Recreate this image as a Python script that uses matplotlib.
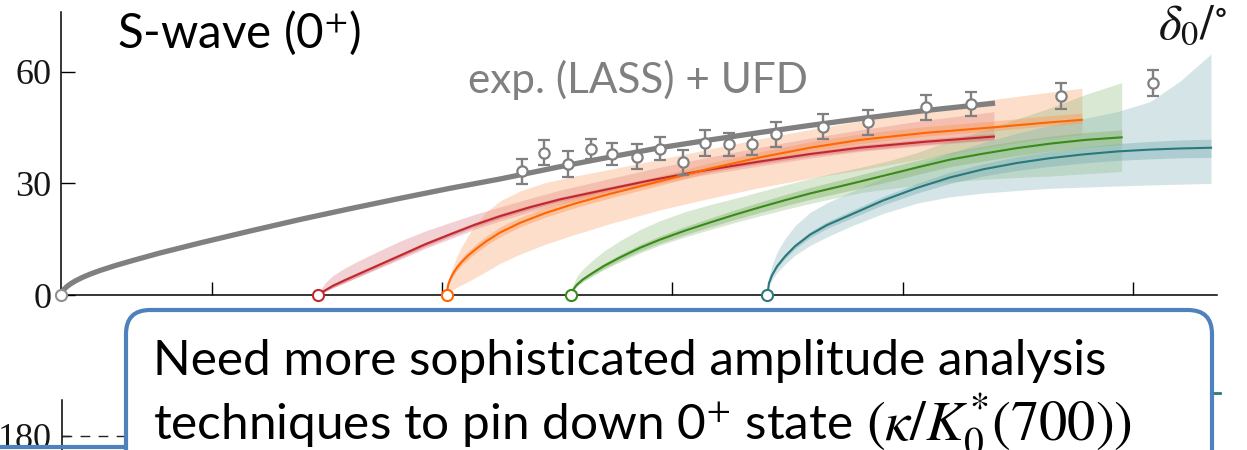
import numpy as np
import matplotlib
matplotlib.use("Agg")
import matplotlib.pyplot as plt
from matplotlib.patches import FancyBboxPatch

plt.rcParams['mathtext.fontset'] = 'stix'

# ---------------- data (E in GeV, phase shift delta_0 in degrees) ----------------
gray_E = [0.6344, 0.6349, 0.6357, 0.6370, 0.6388, 0.6410, 0.6436, 0.6470, 0.6514, 0.6579,
          0.6657, 0.6774, 0.6948, 0.7165, 0.7382, 0.7599, 0.7817, 0.8034, 0.8251, 0.8511,
          0.8729, 0.8946, 0.9163, 0.9380, 0.9597, 0.9814, 1.0097, 1.0401]
gray_deg = [0, 0.8, 1.5, 2.3, 3.1, 3.9, 4.7, 5.6, 6.6, 7.9, 9.3, 11.3, 14.0, 17.2, 20.3,
            23.2, 26.0, 28.7, 31.2, 34.5, 37.1, 39.6, 41.7, 43.7, 45.6, 47.4, 49.6, 51.6]

lass_E = [0.8348, 0.8442, 0.8546, 0.8645, 0.8739, 0.8846, 0.8944, 0.9046, 0.9141,
          0.9245, 0.9347, 0.9451, 0.9652, 0.9848, 1.0100, 1.0295, 1.0687, 1.1088]
lass_deg = [33.3, 38.3, 35.2, 39.3, 38.0, 37.2, 39.3, 35.7, 40.9, 40.5, 40.5, 43.2,
            45.3, 46.4, 50.5, 51.3, 53.6, 57.0]
lass_err = [3.4, 3.3, 3.4, 2.7, 3.0, 3.4, 3.1, 3.4, 3.4, 3.1, 2.9, 3.3, 3.3, 3.4,
            3.4, 3.3, 3.5, 3.4]

red_E = [0.7460, 0.7490, 0.7526, 0.7578, 0.7643, 0.7730, 0.7817, 0.7925, 0.8034, 0.8142,
         0.8251, 0.8381, 0.8511, 0.8685, 0.8902, 0.9119, 0.9380, 0.9597, 0.9814, 1.0097, 1.0396]
red_deg = [0, 1.2, 2.5, 4.0, 5.8, 8.2, 10.6, 13.6, 16.3, 18.9, 21.2, 23.6, 25.7, 28.0,
           30.8, 33.3, 35.9, 37.9, 39.6, 41.2, 42.6]
red_out_hi = [0, 3.2, 5.3, 7.3, 9.4, 12.0, 14.5, 17.2, 19.5, 21.7, 23.7, 26.0, 28.2, 30.7,
              33.8, 36.6, 39.7, 42.2, 44.4, 47.0, 49.3]
red_out_lo = [0, 0.9, 2.0, 3.3, 5.0, 7.3, 9.6, 12.5, 15.1, 17.7, 19.9, 22.3, 24.4, 26.7,
              29.5, 32.1, 34.7, 36.8, 38.6, 40.2, 41.6]
red_in_hi = [0, 1.6, 3.0, 4.6, 6.4, 8.8, 11.2, 14.2, 16.9, 19.5, 21.8, 24.2, 26.3, 28.6,
             31.4, 33.9, 36.5, 38.5, 40.3, 41.9, 43.4]
red_in_lo = [0, 0.9, 2.0, 3.4, 5.2, 7.6, 10.0, 13.0, 15.7, 18.3, 20.6, 23.0, 25.1, 27.4,
             30.2, 32.7, 35.3, 37.3, 38.9, 40.5, 41.8]

orange_E = [0.8019, 0.8025, 0.8034, 0.8047, 0.8064, 0.8086, 0.8112, 0.8147, 0.8190, 0.8251,
            0.8338, 0.8446, 0.8577, 0.8729, 0.8946, 0.9163, 0.9380, 0.9597, 0.9814, 1.0097,
            1.0396, 1.0596, 1.0778]
orange_deg = [0, 2.6, 4.2, 5.8, 7.4, 9.0, 10.6, 12.4, 14.4, 16.8, 19.4, 22.0, 24.6, 27.2,
              30.6, 34.0, 37.0, 39.6, 41.7, 43.6, 45.1, 46.2, 47.1]
orange_out_hi = [0, 3.5, 5.5, 7.8, 10.5, 13.2, 16.0, 19.2, 22.3, 25.3, 28.0, 30.2, 32.0, 33.8,
                 36.5, 39.3, 42.0, 44.5, 46.8, 49.8, 52.6, 54.2, 55.6]
orange_out_lo = [0, 0.6, 1.0, 1.5, 2.1, 2.8, 3.6, 4.8, 6.3, 8.5, 11.0, 13.6, 16.3, 19.2,
                 22.9, 26.0, 28.9, 31.4, 33.6, 36.8, 40.0, 41.8, 43.1]
orange_in_hi = [0, 3.0, 4.8, 6.6, 8.4, 10.1, 11.8, 13.7, 15.8, 18.3, 20.9, 23.5, 26.1, 28.7,
                32.1, 35.5, 38.5, 41.2, 43.3, 45.3, 46.8, 48.0, 48.9]
orange_in_lo = [0, 2.2, 3.7, 5.1, 6.6, 8.1, 9.6, 11.4, 13.3, 15.7, 18.3, 20.9, 23.5, 26.1,
                29.5, 33.0, 36.0, 38.6, 40.7, 42.7, 44.2, 45.3, 46.2]

green_E = [0.8559, 0.8568, 0.8585, 0.8611, 0.8650, 0.8702, 0.8772, 0.8859, 0.8946, 0.9054,
           0.9163, 0.9271, 0.9380, 0.9489, 0.9597, 0.9706, 0.9814, 0.9945, 1.0062, 1.0205,
           1.0349, 1.0496, 1.0640, 1.0792, 1.0951]
green_deg = [0, 1.4, 2.8, 4.2, 5.8, 7.8, 10.1, 12.7, 14.9, 17.3, 19.5, 21.6, 23.6, 25.5,
             27.3, 28.9, 30.5, 32.5, 34.3, 36.4, 38.0, 39.5, 40.7, 41.7, 42.4]
green_out_hi = [0, 2.8, 5.0, 7.0, 9.2, 11.8, 14.6, 17.6, 20.0, 22.4, 24.3, 26.0, 27.8, 29.6,
                31.3, 32.9, 34.3, 36.2, 38.3, 41.5, 44.2, 47.3, 50.3, 53.9, 57.1]
green_out_lo = [0, 1.2, 2.4, 3.6, 5.0, 6.8, 8.9, 11.3, 13.4, 15.6, 17.6, 19.5, 21.3, 23.0,
                24.6, 26.1, 27.5, 28.6, 29.5, 30.4, 31.1, 31.6, 32.0, 32.6, 33.2]
green_in_hi = [0, 1.7, 3.2, 4.7, 6.4, 8.5, 10.9, 13.6, 15.9, 18.4, 20.7, 22.9, 25.0, 27.0,
               28.9, 30.6, 32.3, 34.4, 36.2, 38.3, 40.0, 41.5, 42.7, 43.7, 44.4]
green_in_lo = [0, 1.1, 2.4, 3.7, 5.2, 7.1, 9.3, 11.8, 13.9, 16.2, 18.3, 20.3, 22.2, 24.0,
               25.7, 27.2, 28.7, 30.6, 32.4, 34.5, 36.0, 37.5, 38.7, 39.7, 40.4]

teal_E = [0.9412, 0.9419, 0.9432, 0.9454, 0.9489, 0.9532, 0.9597, 0.9671, 0.9771, 0.9914,
          1.0062, 1.0205, 1.0349, 1.0496, 1.0640, 1.0783, 1.0931, 1.1074, 1.1204, 1.1339]
teal_deg = [0, 3.2, 5.3, 7.7, 10.4, 13.1, 16.2, 18.8, 21.5, 25.4, 28.8, 31.6, 33.8, 35.5,
            36.8, 37.8, 38.6, 39.1, 39.4, 39.6]
teal_out_hi = [0, 5.0, 8.0, 11.5, 15.2, 18.6, 22.2, 24.8, 27.6, 31.5, 35.0, 38.2, 41.0, 43.5,
               45.6, 47.4, 49.3, 52.0, 57.5, 64.8]
teal_out_lo = [0, 2.4, 4.0, 6.0, 8.3, 10.7, 13.3, 15.6, 18.4, 21.9, 24.7, 26.4, 27.4, 28.1,
               28.7, 29.0, 29.3, 29.6, 29.8, 30.0]
teal_in_hi = [0, 3.5, 5.7, 8.2, 11.0, 13.8, 17.0, 19.7, 22.5, 26.5, 30.0, 33.0, 35.3, 37.2,
              38.6, 39.8, 40.7, 41.3, 41.7, 41.9]
teal_in_lo = [0, 2.9, 4.9, 7.2, 9.8, 12.4, 15.4, 17.9, 20.5, 24.2, 27.4, 30.0, 32.0, 33.5,
              34.6, 35.5, 36.2, 36.6, 36.9, 37.0]

x_ticks = [0.7, 0.8, 0.9, 1.0, 1.1]
y_ticks = [0, 30, 60]
y_ticklabels = ["0", "30", "60"]
lower_ticks = [180]
lower_ticklabels = ["180"]

title_text = "S-wave (0$^{+}$)"
exp_text = "exp. (LASS) + UFD"
ylabel_text = r"$\delta_0/^{\circ}$"
box_line1 = "Need more sophisticated amplitude analysis"
box_line2a = "techniques to pin down 0$^{+}$ state"
box_line2b = r"$(\kappa/K_0^{*}(700))$"

# ---------------- figure ----------------
W, H = 1247, 450
fig = plt.figure(figsize=(W / 100, H / 100), dpi=100)
GRAY = "#808080"
TICKC = "#151515"
series = [
    (red_E, red_deg, red_out_lo, red_out_hi, red_in_lo, red_in_hi, "#c1272d", "#d8707c"),
    (orange_E, orange_deg, orange_out_lo, orange_out_hi, orange_in_lo, orange_in_hi, "#ff6600", "#f99a60"),
    (green_E, green_deg, green_out_lo, green_out_hi, green_in_lo, green_in_hi, "#3a8a1a", "#8ab874"),
    (teal_E, teal_deg, teal_out_lo, teal_out_hi, teal_in_lo, teal_in_hi, "#2a787c", "#7fb1b5"),
]

ax = fig.add_axes([61 / W, (H - 295) / H, (1217 - 61) / W, (295 - 12) / H])
ax.set_xlim(0.6344, 1.1365)
ax.set_ylim(0, 76.1)
for s in ["top", "right"]:
    ax.spines[s].set_visible(False)
for s in ["left", "bottom"]:
    ax.spines[s].set_linewidth(1.1)
ax.set_xticks(x_ticks)
ax.set_xticklabels([])
ax.set_yticks(y_ticks)
ax.set_yticklabels(y_ticklabels, family="Liberation Serif", fontsize=26, color=TICKC)
ax.tick_params(axis="y", direction="in", length=10, width=1.0, pad=7)
ax.tick_params(axis="x", direction="in", length=9.5, width=1.0)

for E, d, olo, ohi, ilo, ihi, lc, bc in series:
    ax.fill_between(E, olo, ohi, color=bc, alpha=0.32, lw=0, zorder=1)
    ax.fill_between(E, ilo, ihi, color=bc, alpha=0.45, lw=0, zorder=1.5)

ax.plot(gray_E, gray_deg, color=GRAY, lw=3.8, solid_capstyle="butt", zorder=3)
for E, d, olo, ohi, ilo, ihi, lc, bc in series:
    ax.plot(E, d, color=lc, lw=1.5, zorder=4)

ax.errorbar(lass_E, lass_deg, yerr=lass_err, fmt="o", ms=7.4, mfc="white", mec=GRAY,
            mew=1.6, ecolor=GRAY, elinewidth=1.7, capsize=4.0, capthick=1.7, zorder=5)

ax.plot([gray_E[0]], [gray_deg[0]], "o", ms=8, mfc="white", mec="#909090", mew=1.5,
        zorder=6, clip_on=False)
for E, d, olo, ohi, ilo, ihi, lc, bc in series:
    ax.plot([E[0]], [d[0]], "o", ms=8, mfc="white", mec=lc, mew=1.5, zorder=6, clip_on=False)

# lower (mostly hidden) panel
ax2 = fig.add_axes([62 / W, 0, (1217 - 62) / W, 50 / H])
ax2.set_xlim(0.6344, 1.1365)
ax2.set_ylim(166, 216)
for s in ["top", "right", "bottom"]:
    ax2.spines[s].set_visible(False)
ax2.spines["left"].set_linewidth(1.1)
ax2.set_xticks([])
ax2.set_yticks(lower_ticks)
ax2.set_yticklabels(lower_ticklabels, family="Liberation Serif", fontsize=26, color=TICKC)
ax2.tick_params(axis="y", direction="in", length=6, width=1.0, pad=7)
ax2.axhline(180, color="#222222", lw=1.0, ls=(0, (7, 6)))
ax2.patch.set_alpha(0)

# overlay in pixel coordinates for the slide elements
ov = fig.add_axes([0, 0, 1, 1], zorder=10)
ov.set_xlim(0, W)
ov.set_ylim(H, 0)
ov.axis("off")

ov.plot([0, 126], [447, 447], color="#4f81bd", lw=3, solid_capstyle="butt")
ov.plot([1213, 1220], [393, 393], color="#2a787c", lw=2)
box = FancyBboxPatch((126, 310), 1212 - 126, 200, boxstyle="round,pad=0,rounding_size=24",
                     facecolor="white", edgecolor="#4f81bd", lw=3, zorder=2)
ov.add_patch(box)

FONT = ["Lato", "DejaVu Sans"]
t_title = ov.text(117, 48, title_text, family=FONT, fontsize=32, color="black", va="baseline")
t_exp = ov.text(468, 93, exp_text, family=FONT, fontsize=28, color=GRAY, va="baseline")
t_yl = ov.text(1158, 38, ylabel_text, fontsize=22, color=TICKC, va="baseline")
t_l1 = ov.text(153, 375, box_line1, family=FONT, fontsize=32, color="black",
               va="baseline", zorder=3)
t_l2a = ov.text(153, 440, box_line2a, family=FONT, fontsize=32, color="black",
                va="baseline", zorder=3)
t_l2b = ov.text(954, 440, box_line2b, fontsize=32, color="black", va="baseline", zorder=3)

renderer = fig.canvas.get_renderer()


def fit(t, width):
    w = t.get_window_extent(renderer).width
    t.set_fontsize(t.get_fontsize() * width / w)


fit(t_title, 245)
fit(t_exp, 340)
fit(t_yl, 70)
fit(t_l1, 955)
t_l2a.set_fontsize(t_l1.get_fontsize())
end_a = t_l2a.get_window_extent(renderer).x1
start_b = end_a + 14
t_l2b.set_x(start_b)
fit(t_l2b, 1134 - start_b)

fig.savefig("out.png", dpi=100)
